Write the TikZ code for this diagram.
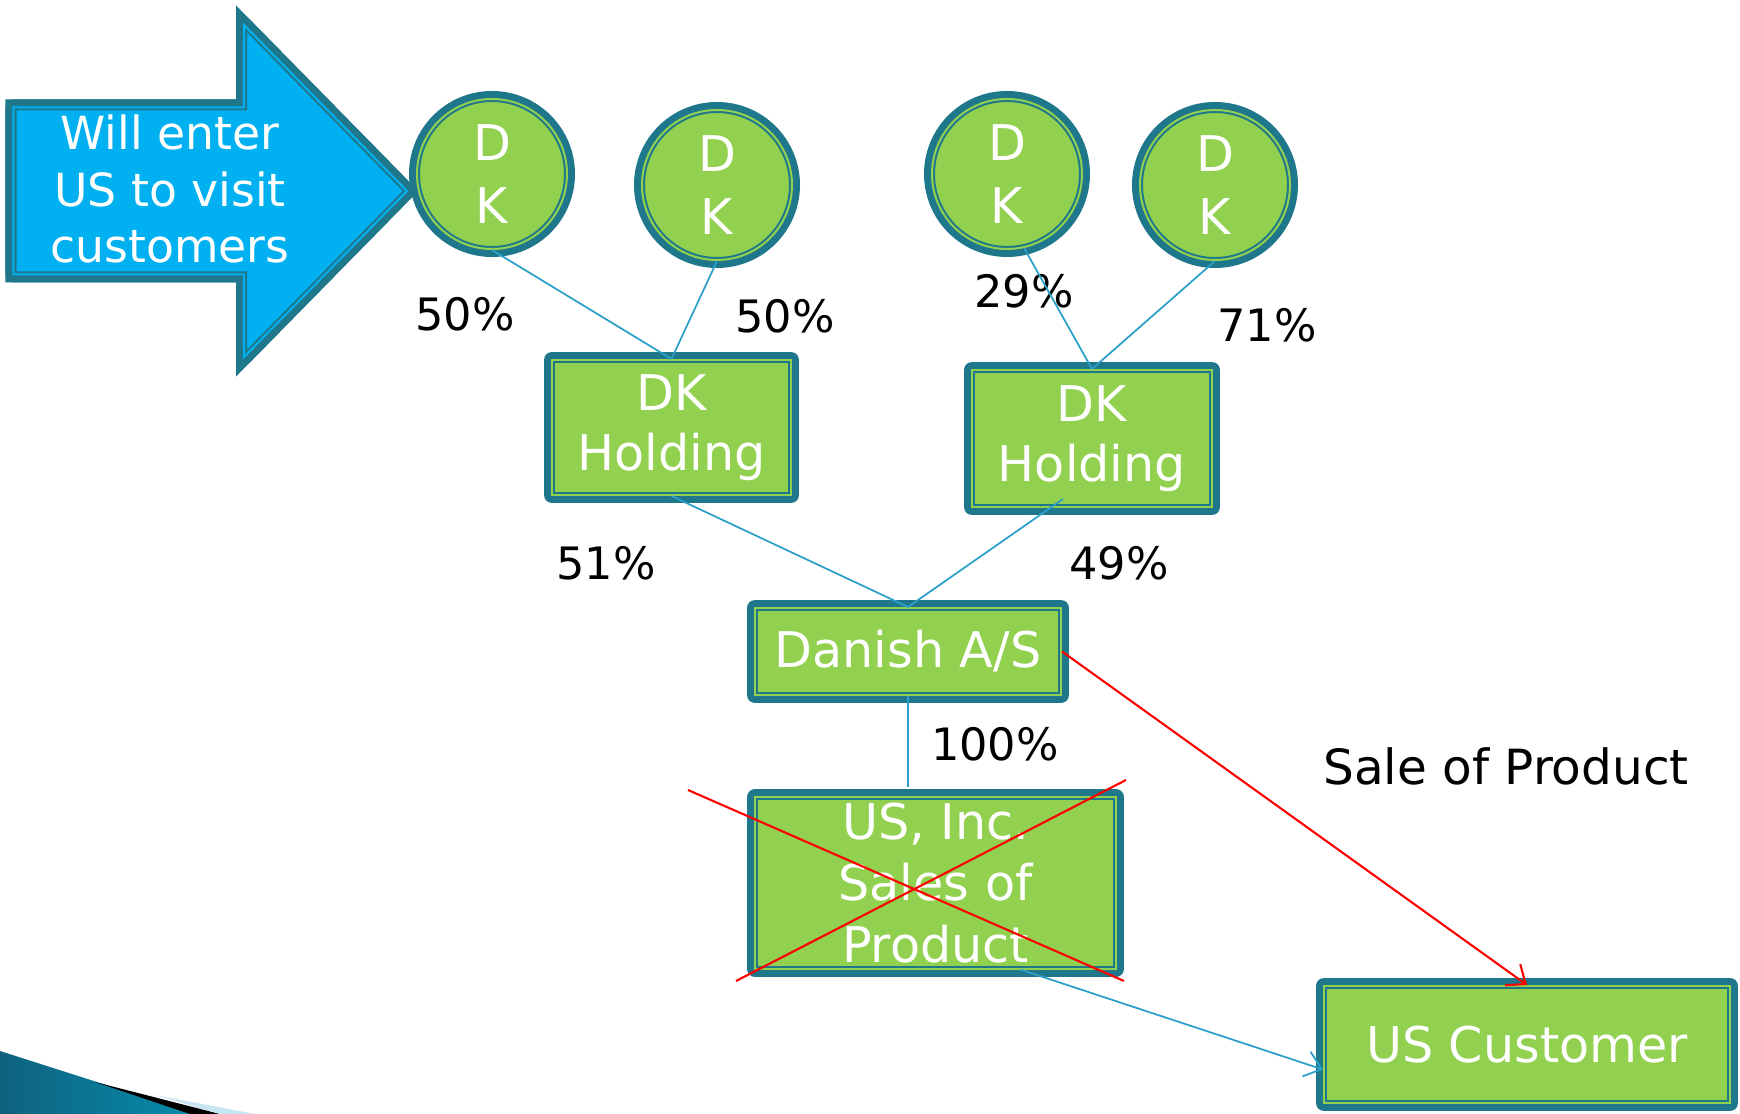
\documentclass[tikz,border=0pt]{standalone}
\usepackage{fontspec}
\setmainfont{DejaVu Sans}
\usetikzlibrary{arrows.meta}

\definecolor{rim}{RGB}{31,119,139}
\definecolor{leaf}{RGB}{146,208,80}
\definecolor{sky}{RGB}{0,176,240}
\definecolor{wire}{RGB}{44,160,200}
\definecolor{swooshdark}{RGB}{14,98,126}
\definecolor{swooshlight}{RGB}{6,140,172}
\definecolor{swooshpale}{RGB}{200,230,242}

\tikzset{
  owner/.style={fill=leaf, draw=rim, line width=0.02cm, double=leaf, double distance=0.02cm,
    preaction={draw=rim, line width=0.16cm, line join=round},
    text=white, align=center, inner sep=0pt},
  dk/.style={owner, circle, minimum size=1.50cm, font=\fontsize{14}{18}\selectfont},
  firm/.style={owner, rectangle, font=\fontsize{14}{17}\selectfont},
  share/.style={font=\fontsize{12.7}{15}\selectfont},
  link/.style={draw=wire, line width=0.5pt},
  tip/.style={-{Straight Barb[length=1.6mm,width=2.6mm]}},
}

\begin{document}
\begin{tikzpicture}
\useasboundingbox (0,0) rectangle (17.4,11.14);

% corner swoosh
\shade[left color=swooshdark, right color=swooshlight]
  (0,0) -- (0,0.63) -- (1.0,0.31) -- (1.95,0) -- cycle;
\fill[black] (0.95,0.32) -- (2.2,0) -- (1.9,0) -- cycle;
\fill[swooshpale] (1.55,0.19) -- (2.55,0) -- (2.2,0) -- cycle;

% big arrow
\path[owner, fill=sky, double=sky, preaction={draw=rim, line width=0.16cm, line join=miter}]
  (0.135,10.065) -- (2.44,10.065) -- (2.44,10.89) -- (4.07,9.23)
  -- (2.44,7.57) -- (2.44,8.395) -- (0.135,8.395) -- cycle;
\node[text=white, align=center, font=\fontsize{13}{16.2}\selectfont] (visit) at (1.70,9.25)
  {Will enter\\US to visit\\customers};

% owners
\foreach \name/\x/\y in {dka/4.92/9.40, dkb/7.17/9.29, dkc/10.07/9.40, dkd/12.15/9.29}
  \node[dk] (\name) at (\x,\y) {D\\K};

% companies
\node[firm, minimum width=2.39cm, minimum height=1.35cm] (holda) at (6.715,6.865) {DK\\Holding};
\node[firm, minimum width=2.40cm, minimum height=1.37cm] (holdb) at (10.92,6.755) {DK\\Holding};
\node[firm, minimum width=3.06cm, minimum height=0.87cm] (danish) at (9.08,4.625) {Danish A/S};
\node[firm, minimum width=3.61cm, minimum height=1.715cm, font=\fontsize{14}{17.4}\selectfont]
  (usinc) at (9.355,2.31) {US, Inc.\\Sales of\\Product};
\node[firm, minimum width=4.06cm, minimum height=1.17cm] (uscust) at (15.27,0.695) {US Customer};

% shares
\node[share] (sa) at (4.65,8.00) {50\%};
\node[share] (sb) at (7.85,7.98) {50\%};
\node[share] (sc) at (10.24,8.23) {29\%};
\node[share] (sd) at (12.67,7.89) {71\%};
\node[share] (se) at (6.06,5.51) {51\%};
\node[share] (sf) at (11.19,5.51) {49\%};
\node[share] (sg) at (9.95,3.70) {100\%};
\node[share, font=\fontsize{13.8}{16}\selectfont] (sale) at (15.06,3.48) {Sale of Product};

% ownership lines
\draw[link] (dka.south) -- (holda.north);
\draw[link] (dkb.south) -- (holda.north);
\draw[link] (dkc.-77) -- (holdb.north);
\draw[link] (dkd.south) -- (holdb.north);
\draw[link] (holda.south) -- (danish.north);
\draw[link] ([shift={(-0.29,0.09)}]holdb.south) -- (danish.north);
\draw[link, shorten >=0.09cm] (danish.south) -- (danish.south |- usinc.north);

% flows
\draw[link, tip] ([xshift=0.855cm]usinc.south) -- (uscust.187);
\draw[red, line width=0.6pt, tip] (danish.east) -- (uscust.north);

% crossed out
\draw[red, line width=0.6pt] (6.88,3.24) -- (11.24,1.33);
\draw[red, line width=0.6pt] (7.36,1.33) -- (11.26,3.34);
\end{tikzpicture}
\end{document}
